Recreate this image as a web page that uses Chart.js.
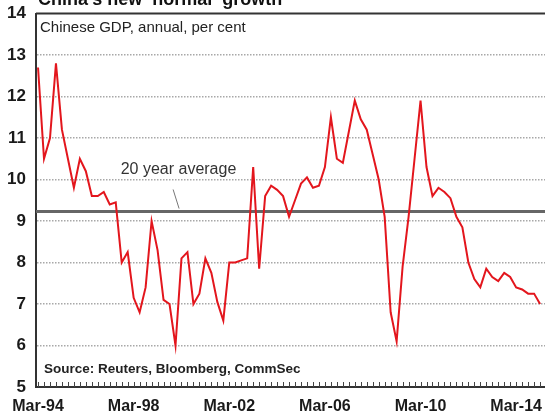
<!DOCTYPE html>
<html>
<head>
<meta charset="utf-8">
<script src="https://cdn.jsdelivr.net/npm/chart.js@4"></script>
<style>
  html, body { margin: 0; padding: 0; background: #fff; overflow: hidden; }
  #wrap { width: 545px; height: 412px; overflow: hidden; }
  canvas { display: block; }
</style>
</head>
<body>
<div id="wrap"><canvas id="gdp" width="562" height="426"></canvas></div>
<script>
// quarterly Chinese GDP, Mar-94 .. Mar-15
const firstYear = 1994;
const gdpGrowth = [
    12.7, 10.5, 11.0, 12.8,   // 1994
    11.2, 10.5, 9.8, 10.5,    // 1995
    10.2, 9.6, 9.6, 9.7,      // 1996
    9.4, 9.45, 8.0, 8.25,     // 1997
    7.15, 6.8, 7.4, 9.0,      // 1998
    8.3, 7.1, 7.0, 6.0,       // 1999
    8.1, 8.25, 7.0, 7.25,     // 2000
    8.1, 7.75, 7.05, 6.6,     // 2001
    8.0, 8.0, 8.05, 8.1,      // 2002
    10.3, 7.85, 9.6, 9.85,    // 2003
    9.75, 9.6, 9.1, 9.5,      // 2004
    9.9, 10.05, 9.8, 9.85,    // 2005
    10.3, 11.5, 10.5, 10.4,   // 2006
    11.15, 11.9, 11.45, 11.2, // 2007
    10.6, 10.0, 9.1, 6.8,     // 2008
    6.1, 7.9, 9.1, 10.5,      // 2009
    11.9, 10.3, 9.6, 9.8,     // 2010
    9.7, 9.55, 9.1, 8.85,     // 2011
    8.0, 7.6, 7.4, 7.85,      // 2012
    7.65, 7.55, 7.75, 7.65,   // 2013
    7.4, 7.35, 7.25, 7.25,    // 2014
    7.0                       // 2015
];
const avgValue = 9.23;
const yTicks = [5, 6, 7, 8, 9, 10, 11, 12, 13, 14];
const labelEvery = 16;
const months = ["Mar", "Jun", "Sep", "Dec"];

const quarterLabels = gdpGrowth.map((_, i) =>
    months[i % 4] + "-" + String((firstYear + Math.floor(i / 4)) % 100).padStart(2, "0"));

const FONT = "'Liberation Sans', Arial, sans-serif";

const xMin = -0.34, xMax = 87;

const decorations = {
    id: "decorations",
    beforeDatasetsDraw(chart) {
        const {ctx, chartArea: a, scales: {x, y}} = chart;
        ctx.save();
        // quarterly tick marks sitting on the axis, pointing up
        ctx.strokeStyle = "#444";
        ctx.lineWidth = 1;
        ctx.beginPath();
        for (let i = 0; i <= Math.floor(xMax); i++) {
            const px = Math.round(x.getPixelForValue(i)) + 0.5;
            ctx.moveTo(px, a.bottom);
            ctx.lineTo(px, a.bottom - 5);
        }
        ctx.stroke();
        // top frame line
        ctx.strokeStyle = "#333";
        ctx.lineWidth = 2;
        ctx.beginPath();
        ctx.moveTo(a.left, y.getPixelForValue(14));
        ctx.lineTo(a.right, y.getPixelForValue(14));
        ctx.stroke();
        ctx.restore();
    },
    afterDraw(chart) {
        const {ctx, scales: {x, y}} = chart;
        ctx.save();
        ctx.fillStyle = "#111";
        ctx.textBaseline = "alphabetic";
        ctx.font = "bold 18px " + FONT;
        ctx.fillText("China\u2019s new \u2018normal\u2019 growth", 38, 5);

        ctx.fillStyle = "#222";
        ctx.textBaseline = "middle";
        ctx.font = "15px " + FONT;
        ctx.fillText("Chinese GDP, annual, per cent", 40, 28);

        ctx.font = "bold 13.5px " + FONT;
        ctx.fillText("Source: Reuters, Bloomberg, CommSec", 44, 369);

        // 20 year average label + leader
        ctx.font = "16px " + FONT;
        ctx.fillStyle = "#333";
        ctx.textAlign = "center";
        ctx.fillText("20 year average", x.getPixelForValue(23.5), y.getPixelForValue(10.25));
        ctx.strokeStyle = "#777";
        ctx.lineWidth = 1;
        ctx.beginPath();
        ctx.moveTo(x.getPixelForValue(22.6), y.getPixelForValue(9.76));
        ctx.lineTo(x.getPixelForValue(23.6), y.getPixelForValue(9.3));
        ctx.stroke();
        ctx.restore();
    }
};

new Chart(document.getElementById("gdp"), {
    type: "line",
    data: {
        datasets: [
            {
                label: "20 year average",
                data: [{x: xMin, y: avgValue}, {x: xMax, y: avgValue}],
                borderColor: "#666",
                borderWidth: 3,
                pointRadius: 0,
                order: 2
            },
            {
                label: "Chinese GDP",
                data: gdpGrowth.map((v, i) => ({x: i, y: v})),
                borderColor: "#e3161d",
                borderWidth: 2,
                pointRadius: 0,
                tension: 0,
                order: 1
            }
        ]
    },
    options: {
        responsive: false,
        animation: false,
        events: [],
        layout: {padding: {top: 13.5, right: 4, left: 0, bottom: 0}},
        plugins: {legend: {display: false}, tooltip: {enabled: false}},
        scales: {
            x: {
                type: "linear",
                min: xMin,
                max: xMax,
                afterBuildTicks: scale => {
                    scale.ticks = quarterLabels
                        .map((_, i) => i)
                        .filter(i => i % labelEvery === 0)
                        .map(i => ({value: i}));
                },
                afterFit: scale => {
                    scale.height = 426 - 387;
                    scale.paddingLeft = 0;
                    scale.paddingRight = 0;
                },
                grid: {display: false, drawTicks: false},
                border: {display: true, color: "#333", width: 2},
                ticks: {
                    autoSkip: false,
                    maxRotation: 0,
                    padding: 10,
                    color: "#1a1a1a",
                    font: {family: FONT, size: 16, weight: "bold"},
                    callback: v => quarterLabels[v]
                }
            },
            y: {
                min: 5,
                max: 14,
                afterBuildTicks: scale => {
                    scale.ticks = yTicks.map(v => ({value: v}));
                },
                afterFit: scale => {
                    scale.width = 36;
                    scale.paddingTop = 0;
                    scale.paddingBottom = 0;
                },
                grid: {
                    drawTicks: false,
                    color: ctx => (ctx.tick && (ctx.tick.value === 5 || ctx.tick.value === 14)) ? "rgba(0,0,0,0)" : "#a8a8a8",
                    lineWidth: 1.5
                },
                border: {display: true, color: "#333", width: 2, dash: [1.5, 1.5]},
                ticks: {
                    padding: 10,
                    color: "#1a1a1a",
                    font: {family: FONT, size: 17, weight: "bold"}
                }
            }
        }
    },
    plugins: [decorations]
});
</script>
</body>
</html>
